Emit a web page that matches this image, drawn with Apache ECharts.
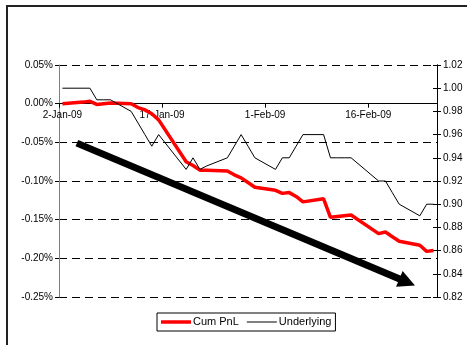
<!DOCTYPE html>
<html>
<head>
<meta charset="utf-8">
<script src="https://cdn.jsdelivr.net/npm/echarts@6/dist/echarts.min.js"></script>
<style>
  html, body { margin: 0; padding: 0; background: #fff; }
  #chart { width: 467px; height: 345px; }
</style>
</head>
<body>
<div id="chart"></div>
<script>
// Trading days shown on the chart
const tradeDates = [
  '2-Jan-09', '5-Jan-09', '6-Jan-09', '7-Jan-09', '8-Jan-09', '9-Jan-09',
  '12-Jan-09', '13-Jan-09', '14-Jan-09', '15-Jan-09', '16-Jan-09',
  '20-Jan-09', '21-Jan-09', '22-Jan-09', '23-Jan-09',
  '26-Jan-09', '27-Jan-09', '28-Jan-09', '29-Jan-09', '30-Jan-09',
  '2-Feb-09', '3-Feb-09', '4-Feb-09', '5-Feb-09', '6-Feb-09',
  '9-Feb-09', '10-Feb-09', '11-Feb-09', '12-Feb-09', '13-Feb-09',
  '17-Feb-09', '18-Feb-09', '19-Feb-09', '20-Feb-09',
  '23-Feb-09', '24-Feb-09', '25-Feb-09'
];

// Cumulative PnL, in percent (left axis)
const cumPnl = [
  0.000, 0.002, 0.003, -0.001, 0.000, 0.001,
  0.000, -0.005, -0.008, -0.013, -0.021,
  -0.075, -0.080, -0.086, -0.086,
  -0.087, -0.092, -0.096, -0.102, -0.108,
  -0.112, -0.116, -0.115, -0.120, -0.127,
  -0.123, -0.147, -0.146, -0.145, -0.144,
  -0.168, -0.166, -0.172, -0.178,
  -0.183, -0.191, -0.190
];

// Underlying price level (right axis)
const underlying = [
  1.00, 1.00, 1.00, 0.99, 0.99, 0.99,
  0.98, 0.97, 0.96, 0.95, 0.96,
  0.93, 0.94, 0.93, 0.933,
  0.94, 0.95, 0.96, 0.95, 0.94,
  0.93, 0.94, 0.94, 0.95, 0.96,
  0.96, 0.94, 0.94, 0.94, 0.94,
  0.92, 0.92, 0.91, 0.90,
  0.89, 0.90, 0.90
];

const seriesNames = ['Cum PnL', 'Underlying'];

// Axis ranges
const pnlMin = -0.25, pnlMax = 0.05, pnlStep = 0.05;
const pxMin = 0.82, pxMax = 1.02, pxStep = 0.02;

// Trend arrow: [calendar day index from 2-Jan-09, Cum PnL %]
const arrowFrom = [2.1, -0.051];
const arrowTo = [51.3, -0.235];

// Calendar-day axis from 2-Jan-09 to 25-Feb-09 (date axis, one slot per day)
const monthNames = ['Jan', 'Feb', 'Mar', 'Apr', 'May', 'Jun', 'Jul', 'Aug', 'Sep', 'Oct', 'Nov', 'Dec'];
const axisStart = Date.UTC(2009, 0, 2);
const axisDays = 55;
const dayMs = 86400000;
const calendar = [];
for (let i = 0; i < axisDays; i++) {
  const d = new Date(axisStart + i * dayMs);
  calendar.push(d.getUTCDate() + '-' + monthNames[d.getUTCMonth()] + '-09');
}

function onCalendar(values) {
  const out = calendar.map(() => null);
  tradeDates.forEach((t, i) => {
    const k = calendar.indexOf(t);
    if (k >= 0) out[k] = values[i];
  });
  return out;
}

const FONT = "'Liberation Sans', Arial, sans-serif";

// Plot box
const gridTop = 65, gridBottom = 48, gridLeft = 59, gridRight = 30;
const gridHeight = 345 - gridTop - gridBottom;
// height of the band above the 0% line, where the date axis is drawn
const aboveZero = gridHeight * (pnlMax / (pnlMax - pnlMin));

// legend swatches: a bar centred in a 30x12 box
const redSwatch = 'path://M0,0M30,12M0,4.25H30V7.75H0Z';
const blackSwatch = 'path://M0,0M30,12M0,5.5H30V6.5H0Z';

const chart = echarts.init(document.getElementById('chart'), null, { renderer: 'canvas' });

chart.setOption({
  animation: false,
  backgroundColor: '#fff',
  textStyle: { fontFamily: FONT },
  grid: [
    { left: gridLeft, right: gridRight, top: gridTop, bottom: gridBottom, containLabel: false },
    { left: gridLeft, right: gridRight, top: gridTop, height: aboveZero, containLabel: false }
  ],
  legend: {
    left: 157,
    top: 313,
    data: [
      { name: seriesNames[0], icon: redSwatch },
      { name: seriesNames[1], icon: blackSwatch }
    ],
    orient: 'horizontal',
    padding: [3, 4, 3, 4],
    borderColor: '#000',
    borderWidth: 1,
    itemWidth: 30,
    itemHeight: 12,
    itemGap: 8,
    textStyle: { fontFamily: FONT, fontSize: 11, color: '#000', padding: [0, 0, 0, -3] }
  },
  xAxis: [
    {
      // scale for the series
      type: 'category',
      gridIndex: 0,
      data: calendar,
      boundaryGap: true,
      axisLine: { show: false, onZero: false },
      axisTick: { show: false },
      axisLabel: { show: false },
      splitLine: { show: false }
    },
    {
      // visible date axis along the 0% line
      type: 'category',
      gridIndex: 1,
      position: 'bottom',
      data: calendar,
      boundaryGap: true,
      axisLine: { show: true, onZero: false, lineStyle: { color: '#000', width: 1 } },
      axisTick: { show: true, interval: 14, length: 4, inside: false, lineStyle: { color: '#000' } },
      axisLabel: {
        interval: 14,
        margin: 7,
        fontFamily: FONT,
        fontSize: 10,
        color: '#000',
        formatter: (v, i) => (i === 0 ? '{a|' + v + '}' : '{b|' + v + '}'),
        rich: {
          a: { fontFamily: FONT, fontSize: 10, color: '#000' },
          b: { fontFamily: FONT, fontSize: 10, color: '#000', padding: [0, 7, 0, 0] }
        }
      },
      splitLine: { show: false }
    }
  ],
  yAxis: [
    {
      type: 'value',
      gridIndex: 0,
      position: 'left',
      min: pnlMin,
      max: pnlMax,
      interval: pnlStep,
      axisLine: { show: true, onZero: false, lineStyle: { color: '#808080', width: 1 } },
      axisTick: { show: true, length: 4, lineStyle: { color: '#000' } },
      axisLabel: {
        margin: 6, fontFamily: FONT, fontSize: 10, color: '#000',
        formatter: v => v.toFixed(2) + '%'
      },
      splitLine: { show: true, lineStyle: { color: '#000', width: 1, type: [8, 5] } }
    },
    {
      type: 'value',
      gridIndex: 0,
      position: 'right',
      min: pxMin,
      max: pxMax,
      interval: pxStep,
      axisLine: { show: true, onZero: false, lineStyle: { color: '#000', width: 1 } },
      axisTick: { show: true, length: 4, lineStyle: { color: '#000' } },
      axisLabel: {
        margin: 6, fontFamily: FONT, fontSize: 10, color: '#000',
        formatter: v => v.toFixed(2)
      },
      splitLine: { show: false }
    },
    {
      // inner half of the right-hand cross ticks
      type: 'value',
      gridIndex: 0,
      position: 'right',
      min: pxMin,
      max: pxMax,
      interval: pxStep,
      axisLine: { show: true, onZero: false, lineStyle: { color: '#000', width: 1 } },
      axisTick: { show: true, inside: true, length: 4, lineStyle: { color: '#000' } },
      axisLabel: { show: false },
      splitLine: { show: false }
    },
    {
      // companion axis of the date-axis band
      type: 'value',
      gridIndex: 1,
      min: 0,
      max: 1,
      show: false
    }
  ],
  series: [
    {
      name: seriesNames[0],
      type: 'line',
      xAxisIndex: 0,
      yAxisIndex: 0,
      data: onCalendar(cumPnl),
      connectNulls: true,
      symbol: 'none',
      lineStyle: { color: '#ff0000', width: 3.5 },
      itemStyle: { color: '#ff0000' },
      z: 2
    },
    {
      name: seriesNames[1],
      type: 'line',
      xAxisIndex: 0,
      yAxisIndex: 1,
      data: onCalendar(underlying),
      connectNulls: true,
      symbol: 'none',
      lineStyle: { color: '#000', width: 1 },
      itemStyle: { color: '#000' },
      z: 3
    }
  ]
});

// Place the trend arrow and outer frame using the axes' own scales
function toPixel(pt) {
  const a = chart.convertToPixel({ xAxisIndex: 0, yAxisIndex: 0 }, [0, 0]);
  const b = chart.convertToPixel({ xAxisIndex: 0, yAxisIndex: 0 }, [axisDays - 1, 0]);
  const slot = (b[0] - a[0]) / (axisDays - 1);
  const y = chart.convertToPixel({ yAxisIndex: 0 }, pt[1]);
  return [a[0] + pt[0] * slot, y];
}

const p0 = toPixel(arrowFrom);
const p1 = toPixel(arrowTo);
const dx = p1[0] - p0[0], dy = p1[1] - p0[1];
const len = Math.sqrt(dx * dx + dy * dy);
const ux = dx / len, uy = dy / len;
const nx = -uy, ny = ux;
const headLen = 17, headHalf = 8.5;
const back = [p1[0] - ux * headLen, p1[1] - uy * headLen];

chart.setOption({
  graphic: [
    {
      type: 'rect',
      silent: true,
      shape: { x: 7, y: 6, width: 520, height: 400 },
      style: { fill: 'none', stroke: '#222', lineWidth: 2 },
      z: 100
    },
    {
      type: 'line',
      silent: true,
      shape: { x1: p0[0], y1: p0[1], x2: back[0] + ux * 1, y2: back[1] + uy * 1 },
      style: { stroke: '#000', lineWidth: 7, lineCap: 'butt' },
      z: 100
    },
    {
      type: 'polygon',
      silent: true,
      shape: {
        points: [
          [p1[0], p1[1]],
          [back[0] + nx * headHalf, back[1] + ny * headHalf],
          [back[0] - nx * headHalf, back[1] - ny * headHalf]
        ]
      },
      style: { fill: '#000' },
      z: 100
    }
  ]
});
</script>
</body>
</html>
